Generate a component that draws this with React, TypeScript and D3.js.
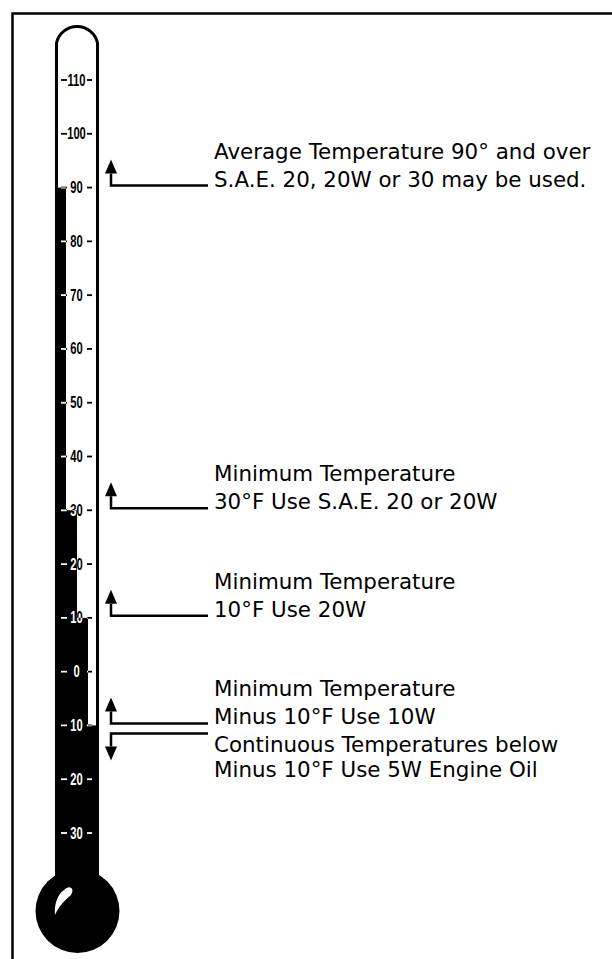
import * as d3 from "d3"

// thermometer scale
const tickValues = [110, 100, 90, 80, 70, 60, 50, 40, 30, 20, 10, 0, -10, -20, -30]
// mercury steps (each step widens the column)
const mercuryLevels = [90, 30, 10, -10]

// annotations
const noteValues = [90, 30, 10, -10, -10]
const noteDirections = ["up", "up", "up", "up", "down"]
const noteFirstLines = [
  "Average Temperature 90° and over",
  "Minimum Temperature",
  "Minimum Temperature",
  "Minimum Temperature",
  "Continuous Temperatures below",
]
const noteSecondLines = [
  "S.A.E. 20, 20W or 30 may be used.",
  "30°F Use S.A.E. 20 or 20W",
  "10°F Use 20W",
  "Minus 10°F Use 10W",
  "Minus 10°F Use 5W Engine Oil",
]

const W = 612
const H = 959

export default function App() {
  const y = d3.scaleLinear().domain([110, -30]).range([80, 833])

  const tubeL = 55
  const tubeR = 99
  const cx = (tubeL + tubeR) / 2
  const r = (tubeR - tubeL) / 2 - 1
  const bulb = { cx: 77.5, cy: 911, r: 42 }
  const colX = d3.scaleLinear().domain([0, mercuryLevels.length]).range([tubeL, tubeR])

  const tubePath = `M${tubeL + 1.5},${bulb.cy} L${tubeL + 1.5},${22 + r} A${r},${r} 0 0 1 ${tubeR - 1.5},${22 + r} L${tubeR - 1.5},${bulb.cy}`

  const mercury = mercuryLevels.map((v, i) => (
    <rect key={v + "_" + i} x={tubeL} y={y(v)} width={colX(i + 1) - tubeL} height={bulb.cy - y(v)} />
  ))

  const labels = (fill: string) =>
    tickValues.map((v) => (
      <g key={v}>
        <line x1={61} x2={67} y1={y(v)} y2={y(v)} stroke={fill} strokeWidth={1.8} />
        <line x1={87} x2={92} y1={y(v)} y2={y(v)} stroke={fill} strokeWidth={1.8} />
        <text
          transform={`translate(${cx - 0.5},${y(v) + 5.5}) scale(0.7,1)`}
          textAnchor="middle"
          fontFamily="Liberation Sans, Arial, sans-serif"
          fontWeight="bold"
          fontSize={16}
          fill={fill}
        >
          {Math.abs(v)}
        </text>
      </g>
    ))

  const arrowX = 111
  const lineEnd = 208
  const textX = 214

  return (
    <svg width={W} height={H} style={{ position: "absolute", left: 0, top: 0, background: "#fff" }}>
      <defs>
        <clipPath id="mercuryClip">
          {mercuryLevels.map((v, i) => (
            <rect key={i} x={tubeL} y={y(v)} width={colX(i + 1) - tubeL} height={bulb.cy - y(v)} />
          ))}
        </clipPath>
      </defs>
      <rect width={W} height={H} fill="#fff" />
      {/* frame */}
      <path d={`M12.5,${H} L12.5,13.5 L${W},13.5`} fill="none" stroke="#000" strokeWidth={2.5} />

      {/* thermometer */}
      <path d={tubePath} fill="#fff" stroke="#000" strokeWidth={3} />
      <g fill="#000">{mercury}</g>
      <circle cx={bulb.cx} cy={bulb.cy} r={bulb.r} fill="#000" />
      <path
        d={`M64,890 C70,884 75,889 71,895 C65,900 59,906 55,915 C54,905 57,895 64,890 Z`}
        fill="#fff"
      />
      <g>{labels("#000")}</g>
      <g clipPath="url(#mercuryClip)">{labels("#fff")}</g>

      {/* annotations */}
      {noteValues.map((v, i) => {
        const up = noteDirections[i] === "up"
        const ly = up ? y(v) - 2 : y(v) + 8
        const tipY = up ? ly - 26 : ly + 27
        const baseY = up ? tipY + 14 : tipY - 14
        const b1 = up ? ly - 27 : ly + 19
        const b2 = up ? ly + 1 : ly + 44
        return (
          <g key={i}>
            <path
              d={`M${lineEnd},${ly} L${arrowX},${ly} L${arrowX},${baseY}`}
              fill="none"
              stroke="#000"
              strokeWidth={2.5}
            />
            <path d={`M${arrowX},${tipY} L${arrowX - 6},${baseY} L${arrowX + 6},${baseY} Z`} fill="#000" />
            <text x={textX} y={b1} fontFamily="DejaVu Sans, sans-serif" fontSize={21.4} fill="#000">
              {noteFirstLines[i]}
            </text>
            <text x={textX} y={b2} fontFamily="DejaVu Sans, sans-serif" fontSize={21.4} fill="#000">
              {noteSecondLines[i]}
            </text>
          </g>
        )
      })}
    </svg>
  )
}
